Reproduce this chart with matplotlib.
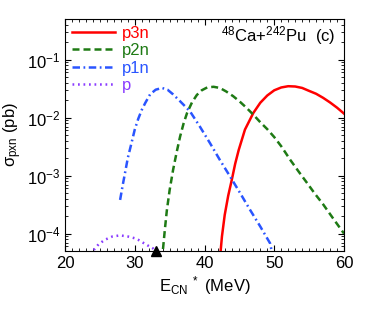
import matplotlib.pyplot as plt
from matplotlib.ticker import LogLocator, MultipleLocator, NullFormatter

plt.rcParams['font.family'] = ['Liberation Sans', 'DejaVu Sans']
plt.rcParams['mathtext.fontset'] = 'custom'
plt.rcParams['mathtext.rm'] = 'Liberation Sans'
plt.rcParams['mathtext.it'] = 'Liberation Sans:italic'
plt.rcParams['mathtext.default'] = 'regular'

# excitation energy (MeV) and cross sections (pb)
p3n_e = [42.2, 42.5, 42.9, 43.4, 43.9, 44.4, 44.9, 45.8, 47.0, 48.0, 49.0,
         50.0, 51.0, 52.0, 53.0, 54.0, 55.0, 56.0, 57.0, 58.0, 59.0, 60.0]
p3n_s = [3.5e-5, 8.9e-5, 2.1e-4, 4.5e-4, 8.3e-4, 1.6e-3, 2.75e-3, 6.2e-3,
         0.012, 0.018, 0.024, 0.0295, 0.033, 0.0347, 0.0343, 0.0324, 0.0288,
         0.0257, 0.0219, 0.0182, 0.0148, 0.0117]

p2n_e = [33.9, 34.3, 34.6, 35.0, 35.5, 36.0, 36.5, 37.0, 37.5, 38.2, 38.9,
         39.6, 40.4, 41.3, 42.2, 43.1, 44.1, 45.0, 46.0, 47.0, 48.0, 49.0,
         50.0, 51.0, 52.3, 53.5, 54.65, 55.8, 57.0, 58.5, 60.0]
p2n_s = [3.5e-5, 1.12e-4, 2.5e-4, 5.6e-4, 1.26e-3, 2.5e-3, 4.7e-3, 7.9e-3,
         0.012, 0.0182, 0.0245, 0.0295, 0.0331, 0.0339, 0.0324, 0.0282,
         0.0234, 0.0191, 0.0148, 0.0112, 8.3e-3, 6.3e-3, 4.6e-3, 3.2e-3,
         1.86e-3, 1.17e-3, 7.6e-4, 4.9e-4, 3.2e-4, 1.78e-4, 1.0e-4]

p1n_e = [27.9, 28.3, 28.6, 29.0, 29.5, 30.0, 30.5, 31.0, 31.5, 32.2, 33.0,
         33.9, 34.7, 35.5, 36.5, 37.9, 39.3, 40.8, 42.2, 43.7, 45.1, 46.5,
         48.0, 49.4, 49.8]
p1n_s = [3.8e-4, 7.1e-4, 1.1e-3, 2.0e-3, 3.5e-3, 6.2e-3, 9.5e-3, 0.0135,
         0.0178, 0.0251, 0.0302, 0.0324, 0.0302, 0.0251, 0.0191, 0.0129,
         7.1e-3, 3.6e-3, 1.86e-3, 9.5e-4, 5.0e-4, 2.6e-4, 1.32e-4, 6.8e-5,
         4.0e-5]

p_e = [23.5, 24.06, 24.8, 25.7, 26.8, 27.9, 29.0, 30.0, 30.5, 31.5, 32.66, 33.0]
p_s = [3.5e-5, 5.1e-5, 6.5e-5, 7.8e-5, 8.9e-5, 9.3e-5, 8.9e-5, 8.3e-5,
       7.8e-5, 6.6e-5, 5.5e-5, 5.0e-5]

marker_e = 33.0

fig = plt.figure(figsize=(3.74, 3.2), dpi=100)
ax = fig.add_axes([0.1738, 0.2156, 0.746, 0.725])

ax.plot(p3n_e, p3n_s, color='#ff0000', lw=1.8, label='p3n')
ax.plot(p2n_e, p2n_s, color='#1e7a14', lw=1.8, ls=(0, (2.8, 1.6)), label='p2n')
ax.plot(p1n_e, p1n_s, color='#2a55ff', lw=1.8, ls=(0, (3.0, 1.4, 0.7, 1.4)), label='p1n')
ax.plot(p_e, p_s, color='#8a3cff', lw=1.8, ls=(0, (0.7, 1.5)), label='p')
ax.plot([marker_e], [5e-5], marker='^', color='black', ms=7, clip_on=False, zorder=5)

ax.set_yscale('log')
ax.set_xlim(20, 60)
ax.set_ylim(5e-5, 0.5)
ax.xaxis.set_major_locator(MultipleLocator(10))
ax.xaxis.set_minor_locator(MultipleLocator(1))
ax.yaxis.set_major_locator(LogLocator(base=10, numticks=10))
ax.yaxis.set_minor_locator(LogLocator(base=10, subs=range(2, 10), numticks=20))
ax.yaxis.set_minor_formatter(NullFormatter())
ax.tick_params(which='both', direction='in', top=True, right=True, labelsize=12)
ax.tick_params(which='major', length=4, width=0.8)
ax.tick_params(which='minor', length=2, width=0.6)
for s in ax.spines.values():
    s.set_linewidth(0.8)

ax.set_xlabel('E$_{CN}$$^{\\ *}$ (MeV)', fontsize=12, labelpad=2)
ax.set_ylabel('$\\sigma_{pxn}$ (pb)', fontsize=12, labelpad=2)

ax.text(0.97, 0.93, '$^{48}$Ca+$^{242}$Pu  (c)', transform=ax.transAxes,
        ha='right', va='center', fontsize=12)

ax.legend(loc='upper left', frameon=False, fontsize=12, labelcolor='linecolor',
          handlelength=2.6, handletextpad=0.4, labelspacing=0.15,
          borderaxespad=0.2, borderpad=0.2)

fig.savefig('out.png', dpi=100)
